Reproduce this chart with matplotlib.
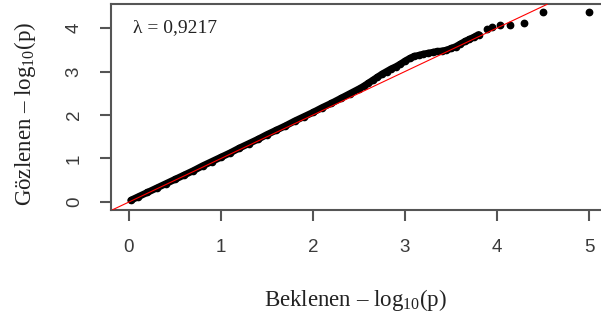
import numpy as np
import matplotlib
matplotlib.use("Agg")
import matplotlib.pyplot as plt

plt.rcParams["mathtext.fontset"] = "custom"
plt.rcParams["mathtext.rm"] = "Liberation Serif"

# QQ plot of association p-values: expected vs observed -log10(p)
exp_dense = [0.02, 0.1, 0.2, 0.3, 0.4, 0.5, 0.6, 0.7, 0.8, 0.9, 1.0, 1.1, 1.2, 1.3,
             1.4, 1.5, 1.6, 1.7, 1.8, 1.9, 2.0, 2.1, 2.2, 2.3, 2.4, 2.5, 2.55, 2.6,
             2.65, 2.7, 2.75, 2.8, 2.85, 2.9, 2.95, 3.0, 3.05, 3.1, 3.15, 3.2, 3.25,
             3.3, 3.35, 3.4, 3.45, 3.5, 3.55, 3.6, 3.65, 3.7, 3.75, 3.8]
obs_dense = [0.04, 0.12, 0.22, 0.32, 0.42, 0.52, 0.62, 0.72, 0.83, 0.93, 1.03, 1.13,
             1.24, 1.34, 1.44, 1.55, 1.65, 1.75, 1.86, 1.96, 2.06, 2.17, 2.27, 2.38,
             2.49, 2.6, 2.66, 2.73, 2.8, 2.87, 2.94, 3.0, 3.06, 3.11, 3.17, 3.24, 3.3,
             3.35, 3.37, 3.4, 3.42, 3.44, 3.46, 3.47, 3.49, 3.53, 3.57, 3.63, 3.69,
             3.74, 3.79, 3.85]

# sparse upper tail
exp_tail = [3.89, 3.95, 4.03, 4.14, 4.29, 4.5, 5.0]
obs_tail = [3.98, 4.03, 4.08, 4.06, 4.12, 4.37, 4.37]

lambda_gc = "0,9217"
xticks = [0, 1, 2, 3, 4, 5]
yticks = [0, 1, 2, 3, 4]

W, H = 601, 325
fig = plt.figure(figsize=(W / 100, H / 100), dpi=100)
# axes box in pixels (left, top, right, bottom); right edge runs off the canvas
l, t, r, b = 110.6, 4.3, 607.4, 209.6
ax = fig.add_axes([l / W, 1 - b / H, (r - l) / W, (b - t) / H])

# dense part of the cloud merges into one thick band
ax.plot(exp_dense, obs_dense, color="black", lw=5, solid_capstyle="round",
        solid_joinstyle="round", marker="o", ms=4.5, zorder=2)
ax.plot(exp_tail, obs_tail, "o", color="black", ms=4.6, zorder=2)
ax.axline((0, 0), slope=1, color="red", lw=0.8, zorder=3)

ax.set_xlim(-0.2, 5.2)
ax.set_ylim(-0.175, 4.545)

spine_col = "#555555"
for s in ax.spines.values():
    s.set_color(spine_col)
    s.set_linewidth(1.5)

ax.set_xticks(xticks)
ax.set_yticks(yticks)
ax.tick_params(length=8, width=1.5, color=spine_col, labelcolor="#3a3a3a",
               labelsize=13.5)
ax.tick_params(axis="x", pad=13)
ax.tick_params(axis="y", pad=12)
for lab in ax.get_xticklabels() + ax.get_yticklabels():
    lab.set_family("Liberation Sans")
for lab in ax.get_yticklabels():
    lab.set_rotation(90)
    lab.set_va("center")

serif = "Liberation Serif"
fig.text(355 / W, 1 - 300 / H, r"Beklenen – $\mathregular{log_{10}}$(p)",
         ha="center", va="center", fontsize=16.5, family=serif, color="#222222")
fig.text(25 / W, 1 - 114 / H, r"Gözlenen – $\mathregular{log_{10}}$(p)",
         ha="center", va="center", rotation=90, fontsize=16.5, family=serif,
         color="#222222")
ax.text(133 / W, 1 - 28 / H, "λ = " + lambda_gc, transform=fig.transFigure,
        ha="left", va="center", fontsize=14, family=serif, color="#222222")

fig.savefig("out.png", dpi=100)
